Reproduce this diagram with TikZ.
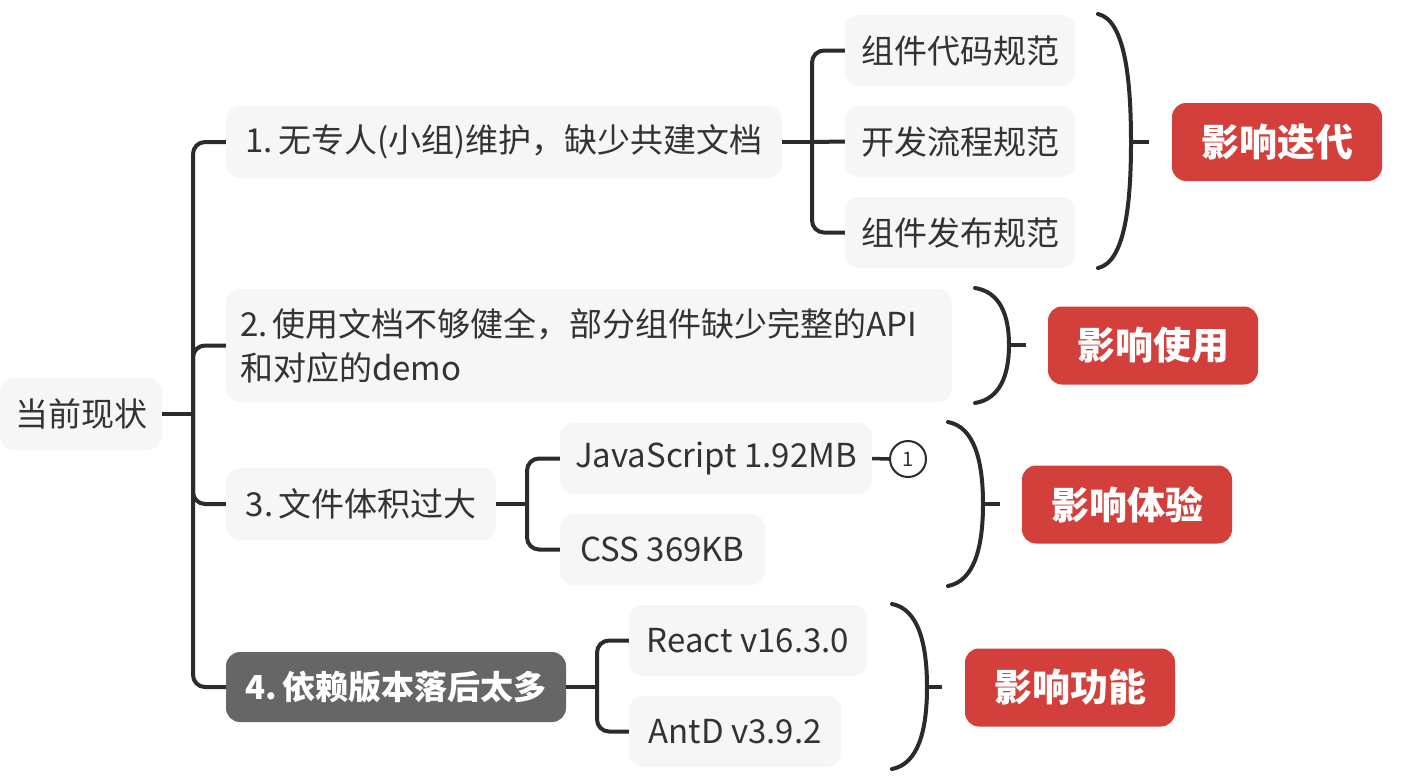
\documentclass[tikz,border=0pt]{standalone}
\usepackage{fontspec}
\setmainfont{Noto Sans CJK SC}
\definecolor{boxgray}{HTML}{F6F6F6}
\definecolor{darkbox}{HTML}{666666}
\definecolor{redbox}{HTML}{D33F3A}
\definecolor{linec}{HTML}{2B2B2B}
\definecolor{txt}{HTML}{333333}
\begin{document}
\begin{tikzpicture}[x=1pt,y=-1pt,
  topic/.style={fill=boxgray, rounded corners=14pt, text=txt, font=\fontsize{33}{44}\selectfont, minimum height=72pt, inner sep=0pt},
  darktopic/.style={topic, fill=darkbox, text=white, font=\fontsize{33}{44}\selectfont\bfseries, minimum height=70pt},
  redtag/.style={fill=redbox, rounded corners=14pt, text=white, font=\fontsize{38}{46}\selectfont\bfseries, minimum width=210pt, minimum height=78pt, inner sep=0pt},
  conn/.style={draw=linec, line width=4pt, rounded corners=12pt},
  brk/.style={draw=linec, line width=4pt, line cap=round},
  footc/.style={circle, draw=linec, line width=2pt, minimum size=36pt, inner sep=0pt, text=txt, font=\fontsize{20}{22}\selectfont}
]
\useasboundingbox (0,0) rectangle (1402,780);
\fill[white] (0,0) rectangle (1402,780);

% main topics
\node[topic, minimum width=162pt] (root) at (81,414) {当前现状};
\node[topic, minimum width=556pt] (n1) at (504,142) {1.\hspace{5pt}无专人(小组)维护，缺少共建文档};
\node[topic, minimum height=113pt, text width=698pt, align=left, inner xsep=14pt] (n2) at (589,345.5) {2.\hspace{5pt}使用文档不够健全，部分组件缺少完整的API\\和对应的demo};
\node[topic, minimum width=270pt] (n3) at (361,504) {3.\hspace{5pt}文件体积过大};
\node[darktopic, minimum width=340pt] (n4) at (396,687) {4.\hspace{5pt}依赖版本落后太多};

% children
\node[topic, minimum width=230pt, minimum height=71pt] (c11) at (960,50.5) {组件代码规范};
\node[topic, minimum width=230pt, minimum height=71pt] (c12) at (960,141.5) {开发流程规范};
\node[topic, minimum width=230pt, minimum height=71pt] (c13) at (960,232.5) {组件发布规范};
\node[topic, minimum width=312pt, minimum height=71pt] (c31) at (716,458.5) {JavaScript 1.92MB};
\node[topic, minimum width=205pt, minimum height=71pt] (c32) at (662.5,549.5) {CSS 369KB};
\node[topic, minimum width=238pt, minimum height=71pt] (c41) at (748,640.5) {React v16.3.0};
\node[topic, minimum width=212pt, minimum height=71pt] (c42) at (735,731.5) {AntD v3.9.2};
\node[footc] (fn) at (908,459) {1};

% summary tags
\node[redtag] (r1) at (1277,142) {影响迭代};
\node[redtag] (r2) at (1153,345.5) {影响使用};
\node[redtag] (r3) at (1127,504.5) {影响体验};
\node[redtag] (r4) at (1070,687.5) {影响功能};

% connectors
\coordinate (j0) at (193,414);
\draw[conn] (root.east) -- (j0);
\draw[conn] (j0) |- (n1.west);
\draw[conn] (j0) |- (n2.west);
\draw[conn] (j0) |- (n3.west);
\draw[conn] (j0) |- (n4.west);

\coordinate (j1) at (812,142);
\draw[conn] (n1.east) -- (j1);
\draw[conn] (j1) |- (c11.west);
\draw[conn] (j1) -- (c12.west);
\draw[conn] (j1) |- (c13.west);

\coordinate (j3) at (527,504);
\draw[conn] (n3.east) -- (j3);
\draw[conn] (j3) |- (c31.west);
\draw[conn] (j3) |- (c32.west);
\draw[conn, line width=3.5pt] (c31.east) -- (fn.west);

\coordinate (j4) at (597,687);
\draw[conn] (n4.east) -- (j4);
\draw[conn] (j4) |- (c41.west);
\draw[conn] (j4) |- (c42.west);

% summary brackets
\draw[brk] (1098,14) .. controls (1125,20) and (1131,80) .. (1131,142) .. controls (1131,204) and (1125,262) .. (1098,268);
\coordinate (t1) at (1149,142);
\draw[conn] (1131,142) -- (t1);

\draw[brk] (975,288) .. controls (1000,292) and (1009,315) .. (1009,345) .. controls (1009,375) and (1000,399) .. (975,403);
\coordinate (t2) at (1026,345);
\draw[conn] (1009,345) -- (t2);

\draw[brk] (948,422) .. controls (974,427) and (983,460) .. (983,504) .. controls (983,548) and (974,581) .. (948,586);
\coordinate (t3) at (1000,504);
\draw[conn] (983,504) -- (t3);

\draw[brk] (892,604) .. controls (918,609) and (927,643) .. (927,687) .. controls (927,731) and (918,764) .. (892,769);
\coordinate (t4) at (942,687);
\draw[conn] (927,687) -- (t4);
\end{tikzpicture}
\end{document}
